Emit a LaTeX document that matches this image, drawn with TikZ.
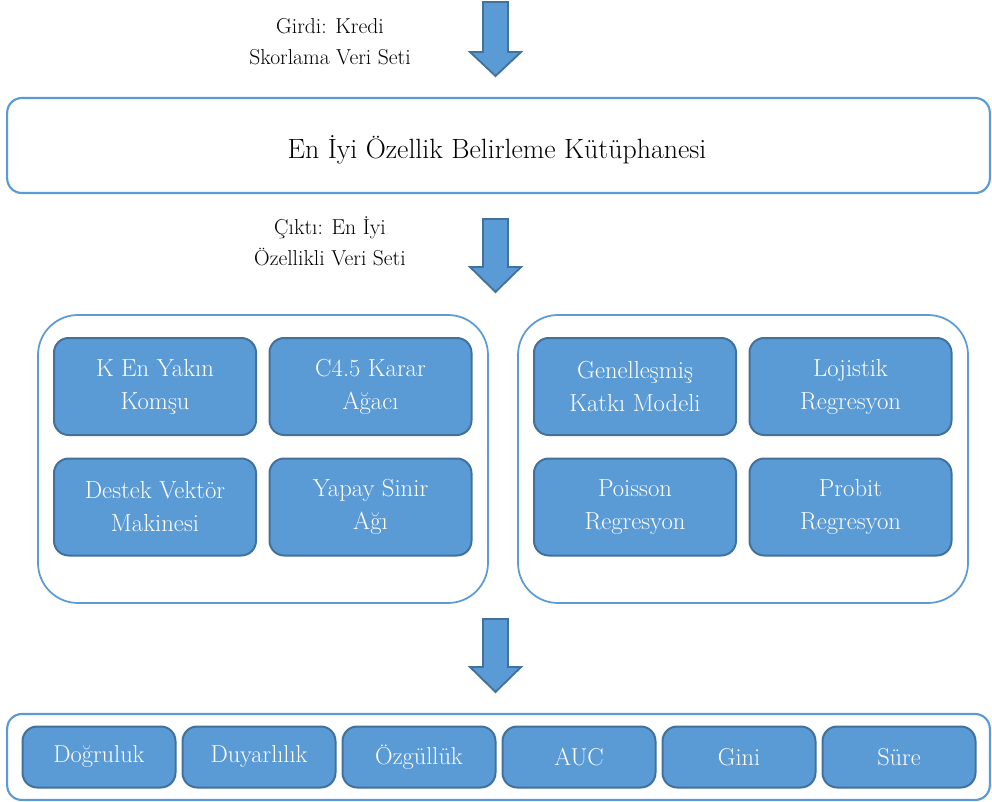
\documentclass[tikz,border=0pt]{standalone}
\usepackage{fontspec}
\definecolor{boxfill}{HTML}{5B9BD5}
\definecolor{boxedge}{HTML}{41719C}
\definecolor{frameedge}{HTML}{5B9BD5}
\usetikzlibrary{positioning}

\begin{document}
\begin{tikzpicture}[x=0.75pt,y=-0.75pt,
    frame/.style={draw=frameedge,line width=1.6pt,fill=white,rounded corners=11pt,
      inner sep=0pt},
    grp/.style={draw=frameedge,line width=1.3pt,fill=white,rounded corners=30pt,
      minimum width=337.5pt,minimum height=216pt,inner sep=0pt},
    mdl/.style={draw=boxedge,line width=1.5pt,fill=boxfill,rounded corners=11pt,
      minimum width=151.5pt,minimum height=72.75pt,inner sep=0pt,
      align=center,text=white,font=\fontsize{18.5}{24.75}\selectfont},
    msr/.style={draw=boxedge,line width=1.5pt,fill=boxfill,rounded corners=11pt,
      minimum width=114.75pt,minimum height=45.75pt,inner sep=0pt,
      text=white,font=\fontsize{18.3}{22}\selectfont},
    lbl/.style={align=center,inner sep=0pt,font=\fontsize{16.2}{23.25}\selectfont},
    blkarrow/.style={fill=boxfill,draw=boxedge,line width=1.4pt,line join=miter},
  ]
    \useasboundingbox (0,0) rectangle (992,802);

    % top: input and feature selection library
    \node[lbl] (inp) at (330,42) {Girdi: Kredi\\Skorlama Veri Seti};
    \node[frame,minimum width=737pt,minimum height=71.25pt] (lib) at (498.5,145.5) {};
    \node[font=\fontsize{20.9}{24}\selectfont] (libtxt) at (497,150)
      {En İyi Özellik Belirleme Kütüphanesi};
    \node[lbl] (out) at (330,241) {Çıktı: En İyi\\Özellikli Veri Seti};

    % classifier groups
    \node[grp] (gl) at (263,459) {};
    \node[grp] (gr) at (743,459) {};

    \node[mdl] (knn) at (155,386.5) {K En Yakın\\Komşu};
    \node[mdl] (cart) at (370.5,386.5) {C4.5 Karar\\Ağacı};
    \node[mdl] (svm) at (155,507) {Destek Vektör\\Makinesi};
    \node[mdl] (ann) at (370.5,507) {Yapay Sinir\\Ağı};

    \node[mdl] (gam) at (635,386.5) {Genelleşmiş\\Katkı Modeli};
    \node[mdl] (logit) at (850.5,386.5) {Lojistik\\Regresyon};
    \node[mdl] (pois) at (635,507) {Poisson\\Regresyon};
    \node[mdl] (probit) at (850.5,507) {Probit\\Regresyon};

    % performance measures
    \node[frame,minimum width=737pt,minimum height=64.5pt] (meas) at (498.5,757) {};
    \foreach \name/\txt [count=\i from 0] in
      {acc/Doğruluk,sens/Duyarlılık,spec/Özgüllük,auc/AUC,gini/Gini,time/Süre}
      \node[msr] (\name) at (99+160*\i,757) {\txt};

    % block arrows
    \foreach \t/\h/\e in {2/52/76,219/267/292,619/667/692}
      \draw[blkarrow] (483,\t) -- (508,\t) -- (508,\h) -- (521,\h) -- (495.5,\e)
        -- (470,\h) -- (483,\h) -- cycle;
\end{tikzpicture}
\end{document}
